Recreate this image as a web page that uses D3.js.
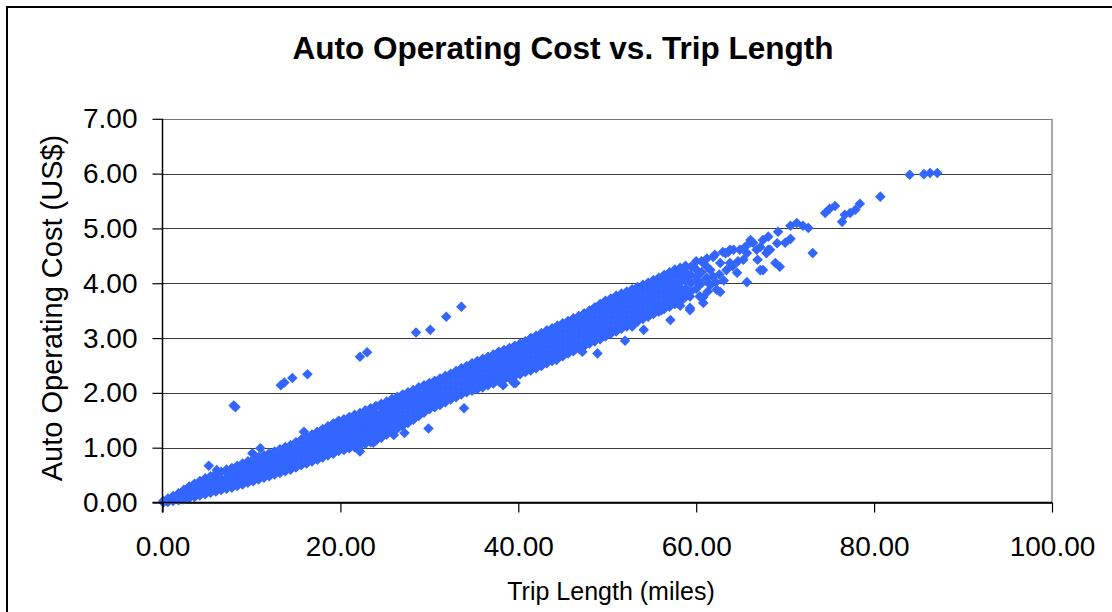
<!DOCTYPE html>
<html>
<head>
<meta charset="utf-8">
<script src="https://cdn.jsdelivr.net/npm/d3@7/dist/d3.min.js"></script>
<style>
  html, body { margin: 0; padding: 0; background: #fff; }
  svg { display: block; font-family: "Liberation Sans", Arial, sans-serif; }
</style>
</head>
<body>
<div id="chart"></div>
<script>
// axis ticks
const xTicks = [0, 20, 40, 60, 80, 100];
const yTicks = [0, 1, 2, 3, 4, 5, 6, 7];

// dense band of trips, read column by column: [trip length, [costs...]]
const bandColumns = [
  [0.1, [0.00, 0.03]], [0.6, [0.01, 0.07]], [1.2, [0.03, 0.08, 0.12]], [1.8, [0.04, 0.11, 0.17]],
  [2.4, [0.06, 0.14, 0.23]], [3.0, [0.08, 0.15, 0.22, 0.29]], [3.6, [0.10, 0.19, 0.27, 0.34]],
  [4.2, [0.13, 0.21, 0.30, 0.39]], [4.8, [0.15, 0.24, 0.34, 0.44]], [5.4, [0.18, 0.28, 0.38, 0.48]],
  [6.0, [0.20, 0.25, 0.35, 0.45, 0.52]], [6.6, [0.23, 0.33, 0.43, 0.56]],
  [7.2, [0.25, 0.35, 0.45, 0.55, 0.60]], [7.8, [0.27, 0.32, 0.42, 0.52, 0.63]],
  [8.4, [0.30, 0.40, 0.50, 0.60, 0.67]], [9.0, [0.33, 0.38, 0.48, 0.58, 0.68, 0.71]],
  [9.6, [0.36, 0.46, 0.56, 0.66, 0.75]], [10.2, [0.39, 0.44, 0.54, 0.64, 0.74, 0.79]],
  [10.8, [0.42, 0.52, 0.62, 0.72, 0.83]], [11.4, [0.45, 0.50, 0.60, 0.70, 0.80, 0.86]],
  [12.0, [0.48, 0.58, 0.68, 0.78, 0.90]], [12.6, [0.51, 0.56, 0.66, 0.76, 0.86, 0.93]],
  [13.2, [0.54, 0.64, 0.74, 0.84, 0.97]], [13.8, [0.57, 0.62, 0.72, 0.82, 0.92, 1.01]],
  [14.4, [0.60, 0.70, 0.80, 0.90, 1.00, 1.05]], [15.0, [0.64, 0.69, 0.79, 0.89, 0.99, 1.10]],
  [15.6, [0.68, 0.78, 0.88, 0.98, 1.08, 1.15]], [16.2, [0.71, 0.76, 0.86, 0.96, 1.06, 1.13, 1.19]],
  [16.8, [0.75, 0.85, 0.95, 1.05, 1.15, 1.24]], [17.4, [0.78, 0.83, 0.93, 1.03, 1.13, 1.23, 1.29]],
  [18.0, [0.82, 0.92, 1.02, 1.12, 1.22, 1.34]], [18.6, [0.86, 0.91, 1.01, 1.11, 1.21, 1.31, 1.39]],
  [19.2, [0.89, 0.99, 1.09, 1.19, 1.29, 1.39, 1.44]], [19.8, [0.94, 0.99, 1.09, 1.19, 1.29, 1.39, 1.49]],
  [20.4, [0.96, 1.06, 1.16, 1.26, 1.36, 1.46, 1.52]], [21.0, [0.99, 1.04, 1.14, 1.24, 1.34, 1.44, 1.56]],
  [21.6, [1.01, 1.11, 1.21, 1.31, 1.41, 1.51, 1.60]], [22.2, [1.04, 1.09, 1.19, 1.29, 1.39, 1.49, 1.59, 1.63]],
  [22.8, [1.07, 1.17, 1.27, 1.37, 1.47, 1.57, 1.68]], [23.4, [1.10, 1.15, 1.25, 1.35, 1.45, 1.55, 1.65, 1.72]],
  [24.0, [1.13, 1.23, 1.33, 1.43, 1.53, 1.63, 1.76]], [24.6, [1.18, 1.23, 1.33, 1.43, 1.53, 1.63, 1.73, 1.80]],
  [25.2, [1.24, 1.34, 1.44, 1.54, 1.64, 1.74, 1.84]], [25.8, [1.29, 1.34, 1.44, 1.54, 1.64, 1.74, 1.84, 1.89]],
  [26.4, [1.35, 1.45, 1.55, 1.65, 1.75, 1.85, 1.93]], [27.0, [1.40, 1.45, 1.55, 1.65, 1.75, 1.85, 1.97]],
  [27.6, [1.45, 1.55, 1.65, 1.75, 1.85, 1.95, 2.01]], [28.2, [1.51, 1.56, 1.66, 1.76, 1.86, 1.96, 2.05]],
  [28.8, [1.58, 1.68, 1.78, 1.88, 1.98, 2.10]], [29.4, [1.64, 1.69, 1.79, 1.89, 1.99, 2.09, 2.14]],
  [30.0, [1.70, 1.80, 1.90, 2.00, 2.10, 2.18]], [30.6, [1.74, 1.79, 1.89, 1.99, 2.09, 2.17, 2.22]],
  [31.2, [1.78, 1.88, 1.98, 2.08, 2.18, 2.26]], [31.8, [1.83, 1.88, 1.98, 2.08, 2.18, 2.28, 2.31]],
  [32.4, [1.88, 1.98, 2.08, 2.18, 2.28, 2.35]], [33.0, [1.92, 1.97, 2.07, 2.17, 2.27, 2.37, 2.40]],
  [33.6, [1.97, 2.07, 2.17, 2.27, 2.37, 2.45]], [34.2, [2.01, 2.06, 2.16, 2.26, 2.36, 2.46, 2.49]],
  [34.8, [2.04, 2.14, 2.24, 2.34, 2.44, 2.54]], [35.4, [2.07, 2.12, 2.22, 2.32, 2.42, 2.52, 2.58]],
  [36.0, [2.10, 2.20, 2.30, 2.40, 2.50, 2.62]], [36.6, [2.14, 2.19, 2.29, 2.39, 2.49, 2.59, 2.66]],
  [37.2, [2.17, 2.27, 2.37, 2.47, 2.57, 2.70]], [37.8, [2.21, 2.26, 2.36, 2.46, 2.56, 2.66, 2.75]],
  [38.4, [2.24, 2.34, 2.44, 2.54, 2.64, 2.72, 2.78]], [39.0, [2.27, 2.32, 2.42, 2.52, 2.62, 2.72, 2.82]],
  [39.6, [2.31, 2.41, 2.51, 2.61, 2.71, 2.81, 2.86]], [40.2, [2.34, 2.39, 2.49, 2.59, 2.69, 2.79, 2.90]],
  [40.8, [2.38, 2.48, 2.58, 2.68, 2.78, 2.88, 2.94]], [41.4, [2.41, 2.46, 2.56, 2.66, 2.76, 2.86, 2.96, 3.00]],
  [42.0, [2.45, 2.55, 2.65, 2.75, 2.85, 2.95, 3.04]], [42.6, [2.49, 2.54, 2.64, 2.74, 2.84, 2.94, 3.04, 3.09]],
  [43.2, [2.54, 2.64, 2.74, 2.84, 2.94, 3.04, 3.14]], [43.8, [2.58, 2.63, 2.73, 2.83, 2.93, 3.03, 3.13, 3.18]],
  [44.4, [2.63, 2.73, 2.83, 2.93, 3.03, 3.13, 3.23]], [45.0, [2.67, 2.72, 2.82, 2.92, 3.02, 3.12, 3.22, 3.27]],
  [45.6, [2.72, 2.82, 2.92, 3.02, 3.12, 3.22, 3.31]], [46.2, [2.76, 2.81, 2.91, 3.01, 3.11, 3.21, 3.31, 3.36]],
  [46.8, [2.81, 2.91, 3.01, 3.11, 3.21, 3.31, 3.40]], [47.4, [2.85, 2.90, 3.00, 3.10, 3.20, 3.30, 3.40, 3.45]],
  [48.0, [2.90, 3.00, 3.10, 3.20, 3.30, 3.40, 3.50]], [48.6, [2.94, 2.99, 3.09, 3.19, 3.29, 3.39, 3.49, 3.56]],
  [49.2, [2.98, 3.08, 3.18, 3.28, 3.38, 3.48, 3.56, 3.62]], [49.8, [3.03, 3.08, 3.18, 3.28, 3.38, 3.48, 3.58, 3.68]],
  [50.4, [3.08, 3.18, 3.28, 3.38, 3.48, 3.58, 3.66, 3.72]], [51.0, [3.12, 3.17, 3.27, 3.37, 3.47, 3.57, 3.67, 3.77]],
  [51.6, [3.17, 3.27, 3.37, 3.47, 3.57, 3.67, 3.75, 3.81]], [52.2, [3.21, 3.26, 3.36, 3.46, 3.56, 3.66, 3.76, 3.85]],
  [52.8, [3.26, 3.36, 3.46, 3.56, 3.66, 3.76, 3.84, 3.89]], [53.4, [3.30, 3.35, 3.45, 3.55, 3.65, 3.75, 3.85, 3.93]],
  [54.0, [3.35, 3.45, 3.55, 3.65, 3.75, 3.85, 3.92, 3.97]], [54.6, [3.39, 3.44, 3.54, 3.64, 3.74, 3.84, 3.94, 4.01]],
  [55.2, [3.44, 3.54, 3.64, 3.74, 3.84, 3.94, 4.00, 4.06]], [55.8, [3.48, 3.53, 3.63, 3.73, 3.83, 3.93, 4.03, 4.10]],
  [56.4, [3.53, 3.63, 3.73, 3.83, 3.93, 4.03, 4.09, 4.15]], [57.0, [3.57, 3.62, 3.72, 3.82, 3.92, 4.02, 4.12, 4.20]],
  [57.6, [3.62, 3.72, 3.82, 3.92, 4.02, 4.12, 4.19, 4.25]], [58.2, [3.66, 3.71, 3.81, 3.91, 4.01, 4.11, 4.21, 4.28]],
  [58.8, [3.75, 3.90, 4.05, 4.20, 4.32]], [59.4, [3.85, 4.00, 4.15, 4.30]],
  [60.0, [3.90, 4.05, 4.25, 4.40]], [60.6, [4.00, 4.20, 4.40]], [61.2, [4.10, 4.30, 4.45]]
];

// scattered trips just above the band
const upperStrays = [
  [5.2, 0.67], [6.1, 0.59], [10.1, 0.90], [11.0, 0.99], [15.9, 1.29]
];

// scattered trips below the band
const lowerStrays = [
  [22.2, 0.93], [23.7, 1.09], [26.0, 1.23], [27.2, 1.27], [29.9, 1.35], [33.9, 1.72],
  [38.3, 2.14], [39.5, 2.18], [39.7, 2.18], [42.1, 2.54], [44.3, 2.60], [47.2, 2.75],
  [48.9, 2.72], [52.0, 2.95], [52.8, 3.21], [54.1, 3.15], [56.1, 3.51], [57.1, 3.33],
  [58.2, 3.59], [59.3, 3.51], [60.6, 3.73]
];

// the thinning upper end of the cloud
const tailPoints = [
  [58.9, 4.12], [59.7, 4.30], [60.8, 4.37], [61.9, 4.48], [63.0, 4.57], [63.8, 4.61],
  [64.9, 4.61], [66.1, 4.75], [58.9, 3.88], [60.4, 4.00], [60.4, 3.76], [61.9, 4.12],
  [62.3, 3.88], [63.4, 4.24], [63.8, 4.37], [64.6, 4.19], [65.3, 4.43], [66.8, 4.61],
  [65.7, 4.55], [68.1, 4.61], [69.1, 4.73], [62.7, 4.37], [60.1, 4.12], [61.6, 4.24],
  [59.3, 3.76], [67.2, 4.24], [60.8, 3.64], [59.3, 3.55], [60.8, 3.75], [62.7, 3.84],
  [62.1, 4.52], [63.3, 4.55], [63.6, 4.57], [64.2, 4.61], [65.7, 4.02], [66.9, 4.43],
  [67.5, 4.24], [67.9, 4.55], [68.3, 4.61], [65.5, 4.66], [66.4, 4.74], [66.1, 4.79],
  [67.2, 4.66], [67.5, 4.79], [68.1, 4.85], [68.9, 4.37], [69.4, 4.30], [70.0, 4.74],
  [70.6, 4.81], [69.2, 4.94], [70.6, 5.05], [71.3, 5.10], [72.0, 5.05], [72.6, 5.01],
  [73.1, 4.55], [74.5, 5.28], [75.0, 5.36], [75.6, 5.41], [76.4, 5.12], [76.7, 5.25],
  [77.3, 5.28], [77.9, 5.34], [78.4, 5.45], [80.7, 5.58], [84.0, 5.98], [85.6, 5.99],
  [86.3, 6.01], [87.1, 6.01], [61.0, 4.05], [61.6, 3.97], [62.2, 4.02], [62.6, 4.16],
  [63.1, 4.05], [64.1, 4.31], [64.7, 4.40], [61.3, 3.85]
];

// high-cost outliers far above the band
const outliers = [
  [8.0, 1.77], [8.2, 1.74], [13.3, 2.14], [13.7, 2.19], [14.6, 2.27], [16.3, 2.34],
  [22.2, 2.66], [23.0, 2.74], [28.5, 3.10], [30.1, 3.15], [31.9, 3.39], [33.6, 3.57]
];

const width = 1112, height = 612;
const plot = { left: 162.5, right: 1052, top: 118.8, bottom: 502.5 };

const svg = d3.select("#chart").append("svg")
    .attr("width", width)
    .attr("height", height);

svg.append("rect").attr("width", width).attr("height", height).attr("fill", "#fff");

// outer chart frame (runs off the right and bottom edge)
svg.append("rect")
    .attr("x", 7).attr("y", 7)
    .attr("width", 1300).attr("height", 1300)
    .attr("fill", "none")
    .attr("stroke", "#000")
    .attr("stroke-width", 2);

const x = d3.scaleLinear().domain([0, 100]).range([plot.left, plot.right]);
const y = d3.scaleLinear().domain([0, 7]).range([plot.bottom, plot.top]);

// gridlines
svg.append("g")
    .selectAll("line")
    .data(yTicks)
    .join("line")
    .attr("x1", plot.left).attr("x2", plot.right)
    .attr("y1", d => Math.round(y(d)) + 0.5).attr("y2", d => Math.round(y(d)) + 0.5)
    .attr("stroke", d => d === 7 ? "#7a7a7a" : "#3c3c3c")
    .attr("stroke-width", 1.2);

// plot area right border
svg.append("line")
    .attr("x1", plot.right).attr("x2", plot.right)
    .attr("y1", plot.top).attr("y2", plot.bottom)
    .attr("stroke", "#8c8c8c")
    .attr("stroke-width", 1.5);

// points
const points = [];
bandColumns.forEach(([tx, costs]) => costs.forEach(c => points.push([tx, c])));
points.push(...upperStrays, ...lowerStrays, ...tailPoints, ...outliers);

const diamond = d3.symbol().type(d3.symbolSquare).size(56);
svg.append("g")
    .selectAll("path")
    .data(points)
    .join("path")
    .attr("d", diamond)
    .attr("transform", d => `translate(${x(d[0])},${y(d[1])}) rotate(45)`)
    .attr("fill", "#3366ff");

// axes
const yAxis = svg.append("g")
    .attr("transform", `translate(${plot.left},0)`)
    .call(d3.axisLeft(y).tickValues(yTicks).tickSize(10).tickPadding(15).tickFormat(d3.format(".2f")));
yAxis.select(".domain").remove();
yAxis.selectAll(".tick line").attr("stroke", "#000").attr("stroke-width", 1.2);
yAxis.selectAll("text").style("font-size", "28px").attr("fill", "#000");

const xAxis = svg.append("g")
    .attr("transform", `translate(0,${plot.bottom})`)
    .call(d3.axisBottom(x).tickValues(xTicks).tickSize(10).tickPadding(24).tickFormat(d3.format(".2f")));
xAxis.select(".domain").remove();
xAxis.selectAll(".tick line").attr("stroke", "#000").attr("stroke-width", 1.2);
xAxis.selectAll("text").style("font-size", "28px").attr("fill", "#000");

// axis lines
svg.append("line")
    .attr("x1", plot.left).attr("x2", plot.left)
    .attr("y1", plot.top).attr("y2", plot.bottom + 10)
    .attr("stroke", "#000").attr("stroke-width", 1.5);
svg.append("line")
    .attr("x1", plot.left - 10).attr("x2", plot.right)
    .attr("y1", plot.bottom).attr("y2", plot.bottom)
    .attr("stroke", "#000").attr("stroke-width", 1.5);

// titles
svg.append("text")
    .attr("x", 563).attr("y", 59)
    .attr("text-anchor", "middle")
    .style("font-size", "31.5px")
    .style("font-weight", "bold")
    .text("Auto Operating Cost vs. Trip Length");

svg.append("text")
    .attr("x", 611).attr("y", 600)
    .attr("text-anchor", "middle")
    .style("font-size", "25px")
    .text("Trip Length (miles)");

svg.append("text")
    .attr("transform", "translate(62,308) rotate(-90)")
    .attr("text-anchor", "middle")
    .style("font-size", "29px")
    .text("Auto Operating Cost (US$)");
</script>
</body>
</html>
